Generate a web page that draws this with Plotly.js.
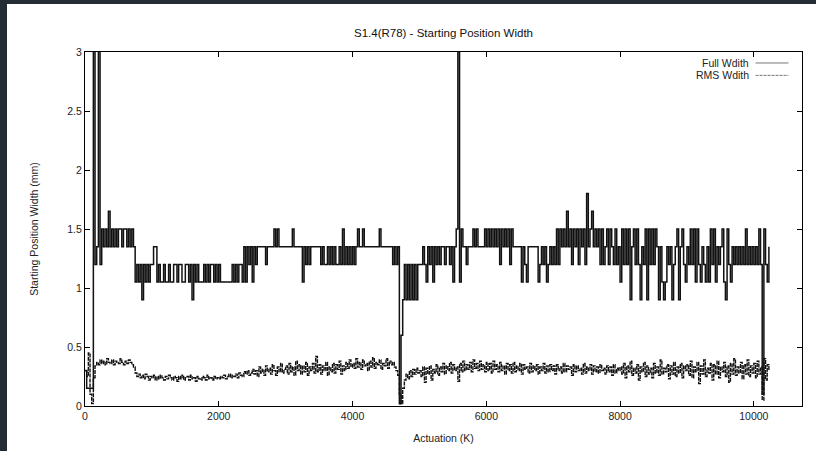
<!DOCTYPE html>
<html>
<head>
<meta charset="utf-8">
<script src="https://cdn.plot.ly/plotly-3.0.1.min.js"></script>
<style>
html,body{margin:0;padding:0;width:816px;height:451px;background:#262c34;overflow:hidden}
#chart{position:absolute;left:7px;top:4px;width:809px;height:447px;background:#fff}
</style>
</head>
<body>
<div id="chart"></div>
<script>
// ---- data ----
const chartTitle = "S1.4(R78) - Starting Position Width";
const xTitle = "Actuation (K)";
const yTitle = "Starting Position Width (mm)";
const seriesNames = ["Full Wdith", "RMS Wdith"];

// samples are taken every 25 K actuations, starting at 0 K
const sampleStartK = 0;
const sampleStepK = 25;

const fullWidth = [
  0.3,0.15,0.15,0.15,0.15,4,1.2,1.35,4,1.2,
  1.5,1.35,1.5,1.35,1.65,1.35,1.5,1.35,1.5,1.35,
  1.5,1.5,1.35,1.5,1.5,1.35,1.5,1.35,1.5,1.35,
  1.05,1.2,1.05,1.2,0.9,1.2,1.05,1.2,1.05,1.2,
  1.2,1.35,1.35,1.05,1.2,1.05,1.05,1.2,1.05,1.05,
  1.2,1.05,1.05,1.2,1.2,1.05,1.2,1.2,1.05,1.05,
  1.2,1.2,1.05,1.2,0.9,1.2,1.05,1.2,1.05,1.05,
  1.05,1.2,1.05,1.2,1.05,1.2,1.2,1.05,1.2,1.05,
  1.2,1.05,1.05,1.05,1.05,1.05,1.05,1.05,1.2,1.05,
  1.2,1.05,1.2,1.2,1.05,1.35,1.05,1.35,1.2,1.35,
  1.05,1.35,1.2,1.35,1.35,1.35,1.35,1.35,1.2,1.35,
  1.35,1.35,1.35,1.5,1.35,1.5,1.35,1.35,1.35,1.35,
  1.35,1.35,1.35,1.35,1.5,1.35,1.35,1.35,1.35,1.35,
  1.05,1.35,1.2,1.35,1.2,1.35,1.35,1.35,1.35,1.35,
  1.35,1.2,1.35,1.2,1.2,1.35,1.2,1.35,1.2,1.35,
  1.2,1.2,1.35,1.2,1.5,1.2,1.35,1.2,1.35,1.2,
  1.35,1.2,1.35,1.5,1.35,1.35,1.5,1.35,1.35,1.35,
  1.35,1.35,1.35,1.35,1.35,1.35,1.5,1.35,1.35,1.35,
  1.35,1.35,1.35,1.35,1.2,1.35,1.2,1.35,0.02,0.6,
  0.9,1.2,0.9,1.2,0.9,1.2,0.9,1.2,0.9,1.2,
  1.2,1.2,1.35,1.2,1.05,1.35,1.2,1.35,1.05,1.35,
  1.2,1.35,1.2,1.35,1.35,1.2,1.35,1.35,1.2,1.35,
  1.05,1.35,1.5,4,1.05,1.5,1.35,1.35,1.2,1.35,
  1.35,1.35,1.5,1.35,1.5,1.35,1.35,1.35,1.35,1.5,
  1.35,1.5,1.35,1.5,1.35,1.5,1.35,1.5,1.2,1.5,
  1.35,1.5,1.35,1.5,1.2,1.5,1.35,1.35,1.35,1.35,
  1.35,1.05,1.35,1.2,1.05,1.35,1.35,1.35,1.35,1.35,
  1.35,1.05,1.2,1.35,1.2,1.35,1.05,1.2,1.35,1.2,
  1.35,1.2,1.5,1.2,1.5,1.35,1.5,1.35,1.65,1.35,
  1.5,1.2,1.5,1.35,1.5,1.2,1.5,1.35,1.5,1.2,
  1.8,1.35,1.5,1.65,1.35,1.5,1.35,1.5,1.2,1.5,
  1.2,1.35,1.5,1.2,1.5,1.35,1.2,1.5,1.2,1.35,
  1.05,1.5,1.2,1.5,1.2,1.5,0.9,1.35,1.5,1.2,
  1.5,1.2,0.9,1.35,1.2,1.5,0.9,1.5,1.2,1.5,
  1.2,1.5,1.35,0.9,1.35,1.05,0.9,1.05,1.35,1.2,
  1.35,0.9,1.2,1.35,1.5,0.9,1.35,1.5,1.2,1.05,
  1.35,1.2,1.5,1.2,1.5,1.05,1.5,1.2,1.05,1.35,
  1.2,1.05,1.35,1.05,1.5,1.2,1.5,1.05,1.35,1.2,
  1.35,1.5,1.05,0.9,1.5,1.2,1.05,1.35,1.2,1.35,
  1.2,1.35,1.2,1.35,1.2,1.5,1.2,1.35,1.2,1.35,
  1.2,1.35,1.2,1.5,1.2,0.1,1.5,1.2,1.05,1.35
];

const rmsWidth = [
  0.3,0.25,0.45,0.1,0.02,0.24,0.34,0.37,0.35,0.39,
  0.36,0.38,0.35,0.4,0.37,0.36,0.39,0.35,0.38,0.37,
  0.36,0.4,0.37,0.35,0.38,0.36,0.39,0.37,0.35,0.33,
  0.28,0.25,0.27,0.24,0.26,0.23,0.27,0.25,0.22,0.25,
  0.24,0.26,0.22,0.25,0.23,0.26,0.24,0.22,0.25,0.23,
  0.26,0.24,0.22,0.25,0.24,0.21,0.25,0.23,0.26,0.22,
  0.24,0.25,0.22,0.26,0.23,0.24,0.21,0.25,0.23,0.22,
  0.25,0.24,0.22,0.26,0.23,0.24,0.22,0.25,0.23,0.24,
  0.23,0.25,0.24,0.26,0.23,0.25,0.27,0.24,0.26,0.25,
  0.27,0.24,0.28,0.26,0.25,0.29,0.27,0.3,0.26,0.28,
  0.31,0.27,0.3,0.25,0.33,0.28,0.31,0.26,0.34,0.29,
  0.32,0.27,0.35,0.3,0.26,0.33,0.29,0.36,0.28,0.31,
  0.34,0.27,0.36,0.29,0.33,0.26,0.38,0.3,0.35,0.27,
  0.34,0.29,0.37,0.26,0.33,0.3,0.36,0.28,0.42,0.29,
  0.35,0.27,0.34,0.3,0.37,0.26,0.33,0.29,0.36,0.28,
  0.35,0.31,0.38,0.27,0.34,0.3,0.37,0.32,0.39,0.33,
  0.36,0.32,0.4,0.33,0.37,0.31,0.39,0.34,0.36,0.3,
  0.38,0.33,0.41,0.32,0.37,0.35,0.39,0.31,0.36,0.34,
  0.4,0.32,0.38,0.35,0.37,0.33,0.3,0.26,0.1,0.02,
  0.15,0.22,0.27,0.23,0.3,0.25,0.31,0.27,0.32,0.28,
  0.3,0.25,0.33,0.2,0.32,0.27,0.34,0.22,0.31,0.28,
  0.35,0.26,0.33,0.29,0.36,0.27,0.34,0.3,0.37,0.28,
  0.35,0.3,0.33,0.21,0.36,0.29,0.38,0.3,0.35,0.31,
  0.37,0.29,0.39,0.32,0.36,0.3,0.38,0.31,0.35,0.29,
  0.37,0.3,0.36,0.28,0.38,0.31,0.35,0.29,0.37,0.3,
  0.34,0.27,0.36,0.3,0.35,0.28,0.37,0.29,0.34,0.3,
  0.36,0.27,0.35,0.31,0.33,0.28,0.36,0.29,0.34,0.3,
  0.35,0.27,0.33,0.3,0.36,0.28,0.34,0.29,0.35,0.3,
  0.34,0.27,0.35,0.3,0.33,0.28,0.36,0.29,0.34,0.31,
  0.33,0.26,0.35,0.29,0.34,0.3,0.32,0.27,0.36,0.28,
  0.33,0.3,0.35,0.27,0.34,0.29,0.33,0.28,0.35,0.3,
  0.32,0.27,0.34,0.29,0.33,0.26,0.35,0.28,0.32,0.3,
  0.33,0.27,0.36,0.24,0.34,0.29,0.38,0.26,0.32,0.28,
  0.35,0.22,0.33,0.29,0.37,0.25,0.34,0.27,0.32,0.24,
  0.36,0.28,0.33,0.26,0.39,0.27,0.32,0.29,0.35,0.23,
  0.34,0.27,0.37,0.25,0.33,0.28,0.36,0.24,0.34,0.3,
  0.35,0.26,0.38,0.24,0.33,0.29,0.37,0.19,0.34,0.27,
  0.39,0.25,0.32,0.28,0.36,0.22,0.35,0.27,0.38,0.24,
  0.33,0.29,0.37,0.25,0.34,0.2,0.36,0.27,0.4,0.26,
  0.33,0.28,0.37,0.23,0.35,0.27,0.39,0.25,0.34,0.28,
  0.36,0.24,0.38,0.27,0.33,0.05,0.4,0.22,0.35,0.3
];

const xTickVals = [0, 2000, 4000, 6000, 8000, 10000];
const xTickText = ["0", "2000", "4000", "6000", "8000", "10000"];
const yTickVals = [0, 0.5, 1, 1.5, 2, 2.5, 3];
const yTickText = ["0", "0.5", "1", "1.5", "2", "2.5", "3"];

// ---- build ----
const actuationFull = fullWidth.map((_, i) => sampleStartK + i * sampleStepK);
const actuationRms = rmsWidth.map((_, i) => sampleStartK + i * sampleStepK);

const font = "Liberation Sans, Arial, sans-serif";
const txt = "#222";

const traces = [
  {
    type: "scatter", mode: "lines", name: seriesNames[0],
    x: actuationFull, y: fullWidth,
    line: {color: "#111", width: 1.5, shape: "hv"},
    showlegend: false, hoverinfo: "skip"
  },
  {
    type: "scatter", mode: "lines", name: seriesNames[1],
    x: actuationRms, y: rmsWidth,
    line: {color: "#111", width: 1.4, shape: "hv", dash: "4px,1px"},
    showlegend: false, hoverinfo: "skip"
  }
];

// legend drawn gnuplot-style: text on the left, sample on the right
const legX0 = 0.9352, legX1 = 0.9812, legTextX = 0.9268;
const legY = [0.969, 0.934];

const layout = {
  width: 809, height: 447,
  paper_bgcolor: "#ffffff", plot_bgcolor: "#ffffff",
  margin: {l: 78, r: 13.5, t: 48, b: 45, pad: 0},
  font: {family: font, size: 11, color: txt},
  title: {
    text: chartTitle,
    font: {family: font, size: 11.5, color: "#111"},
    x: 0.5, xref: "paper", xanchor: "center",
    y: 0.935, yref: "container", yanchor: "middle"
  },
  xaxis: {
    range: [0, 10720], autorange: false,
    tickmode: "array", tickvals: xTickVals, ticktext: xTickText,
    ticks: "inside", ticklen: 5, tickwidth: 1, tickcolor: "#000",
    showline: true, linecolor: "#000", linewidth: 1, mirror: "ticks",
    showgrid: false, zeroline: false,
    tickfont: {family: font, size: 10.5, color: txt},
    title: {text: xTitle, font: {family: font, size: 10.5, color: txt}, standoff: 14}
  },
  yaxis: {
    range: [0, 3], autorange: false,
    tickmode: "array", tickvals: yTickVals, ticktext: yTickText,
    ticks: "inside", ticklen: 5, tickwidth: 1, tickcolor: "#000",
    showline: true, linecolor: "#000", linewidth: 1, mirror: "ticks",
    showgrid: false, zeroline: false,
    tickfont: {family: font, size: 10.5, color: txt},
    title: {text: yTitle, font: {family: font, size: 10.5, color: txt}, standoff: 26}
  },
  annotations: seriesNames.map((n, i) => ({
    text: n, xref: "paper", yref: "paper",
    x: legTextX, y: legY[i], xanchor: "right", yanchor: "middle",
    showarrow: false, borderpad: 0, font: {family: font, size: 10.5, color: txt}
  })),
  shapes: [
    {type: "line", xref: "paper", yref: "paper", x0: legX0, x1: legX1, y0: legY[0], y1: legY[0],
     line: {color: "#777", width: 1}},
    {type: "line", xref: "paper", yref: "paper", x0: legX0, x1: legX1, y0: legY[1], y1: legY[1],
     line: {color: "#777", width: 1, dash: "3px,1px"}}
  ],
  showlegend: false
};

Plotly.newPlot("chart", traces, layout, {staticPlot: true, displayModeBar: false});
</script>
</body>
</html>
